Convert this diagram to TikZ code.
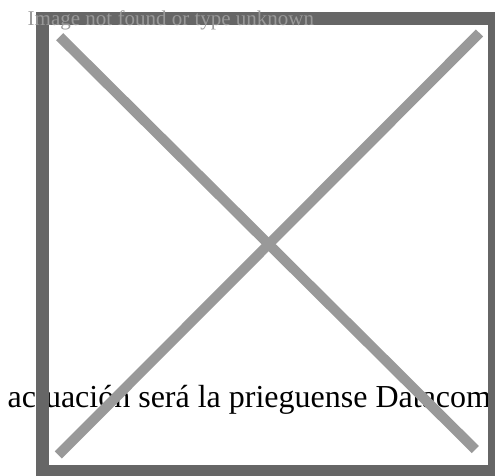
\documentclass[tikz,border=0pt]{standalone}
\usepackage{fontspec}
\setmainfont{Liberation Serif}
\definecolor{framegray}{HTML}{666666}
\definecolor{crossgray}{HTML}{999999}

\begin{document}
\begin{tikzpicture}[x=1pt,y=-1pt]
    \useasboundingbox (0,0) rectangle (495,475);
    \clip (0,0) rectangle (495,475);

    \node[anchor=base west, inner sep=0pt, font=\fontsize{32}{38}\selectfont] at (7.5,407) (caption) {actuación será la prieguense Datacom};

    \draw[framegray, line width=13pt] (42.5,18.5) rectangle (494,471.5);

    \coordinate (tl) at (59.7,36.7);
    \coordinate (br) at (475.3,449.5);
    \coordinate (tr) at (479.5,33);
    \coordinate (bl) at (58.3,455);

    \draw[crossgray, line width=10pt] (tl) -- (br);
    \draw[crossgray, line width=10pt] (tr) -- (bl);

    \node[anchor=base west, inner sep=0pt, text=crossgray, font=\fontsize{21}{25}\selectfont] at (27.5,25) (alt) {Image not found or type unknown};
\end{tikzpicture}
\end{document}
